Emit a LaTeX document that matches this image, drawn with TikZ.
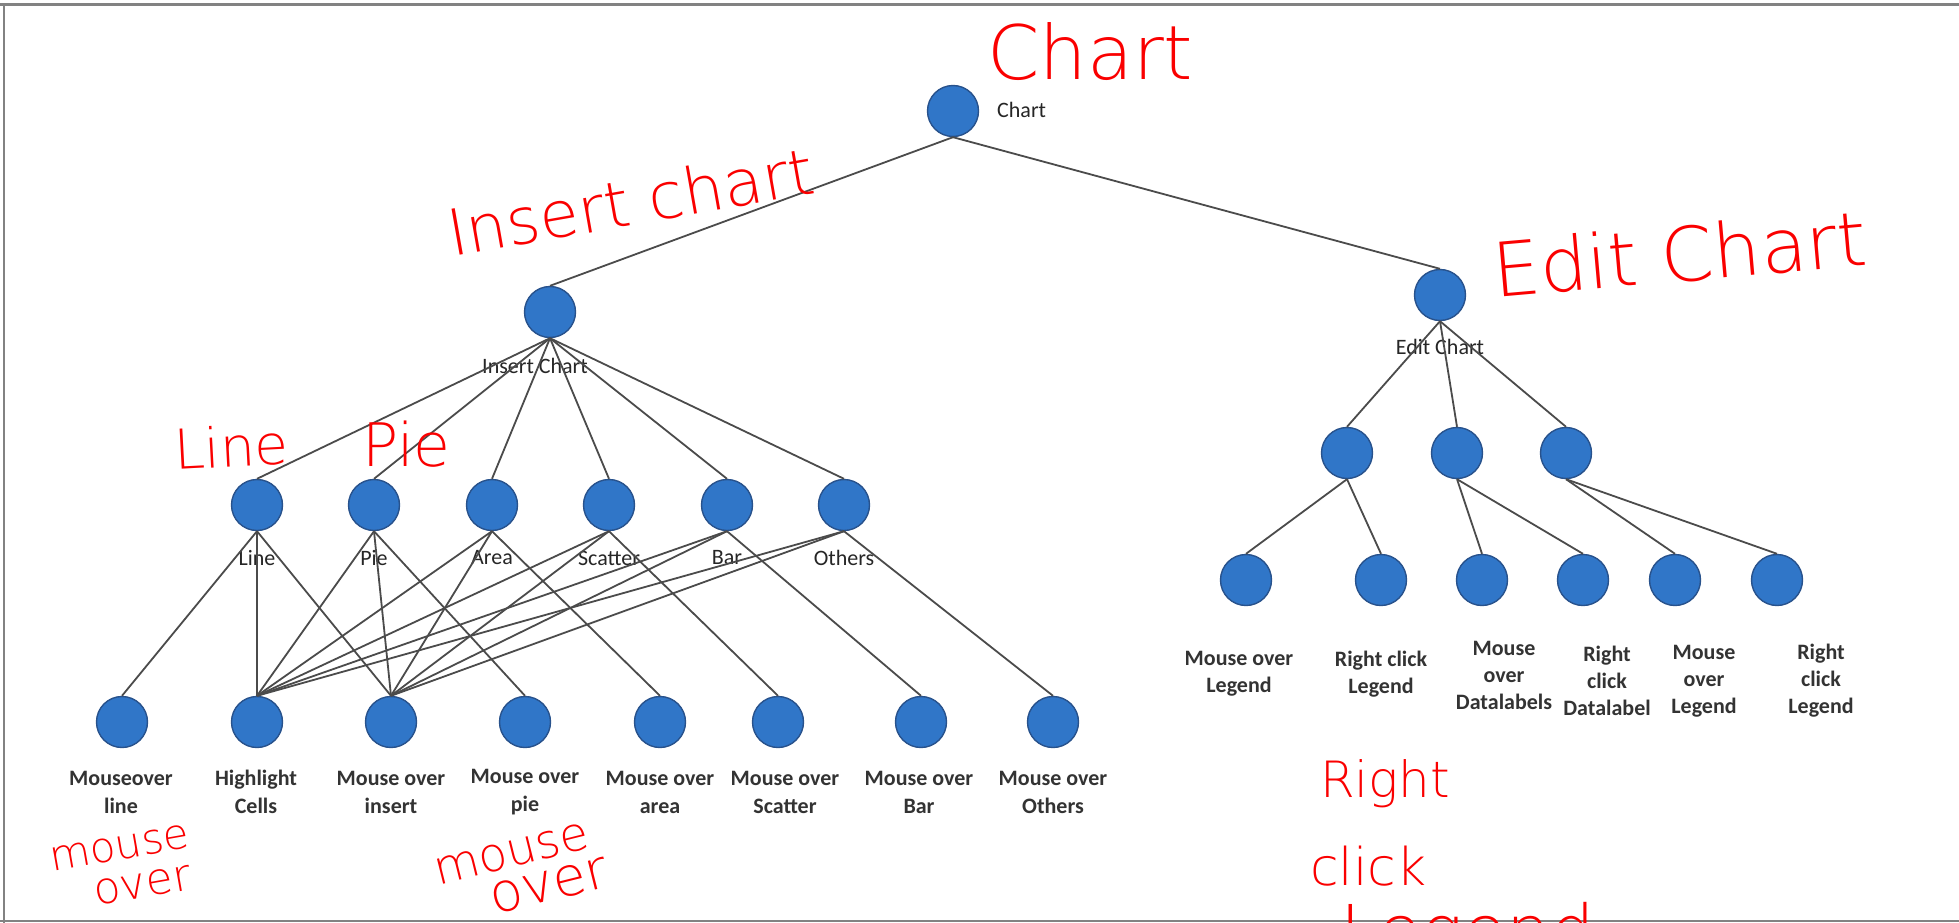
\documentclass[tikz,border=0pt]{standalone}
\usepackage{fontspec}
\setmainfont{Carlito}
\newfontfamily\handfont{DejaVuSans-ExtraLight.ttf}
\definecolor{nodeblue}{RGB}{48,118,200}
\definecolor{nodeedge}{RGB}{40,82,140}
\definecolor{linkgray}{RGB}{75,75,75}
\definecolor{framegray}{RGB}{130,130,130}
\definecolor{ink}{RGB}{250,0,0}
\begin{document}
\begin{tikzpicture}[x=1pt,y=-1pt,
  dot/.style={circle,fill=nodeblue,draw=nodeedge,line width=1.4pt,minimum size=51pt,inner sep=0pt},
  lab/.style={font=\fontsize{22}{28}\selectfont,text=black!85,align=center,inner sep=0pt},
  leaf/.style={font=\fontsize{22}{28}\selectfont\bfseries,text=black!80,align=center,inner sep=0pt},
  rleaf/.style={leaf,font=\fontsize{22}{27}\selectfont\bfseries},
  link/.style={draw=linkgray,line width=1.8pt},
  note/.style={text=ink,inner sep=0pt,anchor=base west}
]
\useasboundingbox (0,0) rectangle (1959,923);
\fill[white] (0,0) rectangle (1959,923);

% page frame
\draw[framegray,line width=3pt] (0,5) -- (1959,5);
\draw[framegray,line width=2.5pt] (4,5) -- (4,923);
\draw[framegray,line width=2.5pt] (0,921) -- (1959,921);

% labels (drawn first so the links pass over them)
\node[lab,anchor=west] (tChart) at (997,110) {Chart};
\node[lab] (tIns) at (535,366) {Insert Chart};
\node[lab] (tEdt) at (1440,347) {Edit Chart};
\node[lab] (tLn) at (257,558) {Line};
\node[lab] (tPie) at (374,558) {Pie};
\node[lab] (tArea) at (492,558) {Area};
\node[lab] (tSct) at (609,558) {Scatter};
\node[lab] (tBar) at (727,558) {Bar};
\node[lab] (tOth) at (844,558) {Others};

\node[leaf] (tMln) at (121,792) {Mouseover\\line};
\node[leaf] (tHl) at (256,792) {Highlight\\Cells};
\node[leaf] (tMins) at (391,792) {Mouse over\\insert};
\node[leaf] (tMpie) at (525,792) {Mouse over\\pie};
\node[leaf] (tMarea) at (660,792) {Mouse over\\area};
\node[leaf] (tMsct) at (785,792) {Mouse over\\Scatter};
\node[leaf] (tMbar) at (919,792) {Mouse over\\Bar};
\node[leaf] (tMoth) at (1053,792) {Mouse over\\Others};

\node[rleaf] (tR1) at (1239,674) {Mouse over\\Legend};
\node[rleaf] (tR2) at (1381,674) {Right click\\Legend};
\node[rleaf] (tR3) at (1504,675) {Mouse\\over\\Datalabels};
\node[rleaf] (tR4) at (1607,681) {Right\\click\\Datalabel};
\node[rleaf] (tR5) at (1704,681) {Mouse\\over\\Legend};
\node[rleaf] (tR6) at (1821,681) {Right\\click\\Legend};

% tree nodes
\node[dot] (root) at (953,111) {};
\node[dot] (ins) at (550,312) {};
\node[dot] (edt) at (1440,295) {};

\node[dot] (ln) at (257,505) {};
\node[dot] (pie) at (374,505) {};
\node[dot] (area) at (492,505) {};
\node[dot] (sct) at (609,505) {};
\node[dot] (bar) at (727,505) {};
\node[dot] (oth) at (844,505) {};

\node[dot] (mln) at (122,722) {};
\node[dot] (hl) at (257,722) {};
\node[dot] (mins) at (391,722) {};
\node[dot] (mpie) at (525,722) {};
\node[dot] (marea) at (660,722) {};
\node[dot] (msct) at (778,722) {};
\node[dot] (mbar) at (921,722) {};
\node[dot] (moth) at (1053,722) {};

\node[dot] (e1) at (1347,453) {};
\node[dot] (e2) at (1457,453) {};
\node[dot] (e3) at (1566,453) {};

\node[dot] (r1) at (1246,580) {};
\node[dot] (r2) at (1381,580) {};
\node[dot] (r3) at (1482,580) {};
\node[dot] (r4) at (1583,580) {};
\node[dot] (r5) at (1675,580) {};
\node[dot] (r6) at (1777,580) {};

% links
\draw[link] (root.south) -- (ins.north);
\draw[link] (root.south) -- (edt.north);
\foreach \c in {ln,pie,area,sct,bar,oth}
  \draw[link] (ins.south) -- (\c.north);
\foreach \c in {e1,e2,e3}
  \draw[link] (edt.south) -- (\c.north);
\foreach \p/\own in {ln/mln,pie/mpie,area/marea,sct/msct,bar/mbar,oth/moth}{
  \draw[link] (\p.south) -- (\own.north);
  \draw[link] (\p.south) -- (hl.north);
  \draw[link] (\p.south) -- (mins.north);
}
\draw[link] (e1.south) -- (r1.north);
\draw[link] (e1.south) -- (r2.north);
\draw[link] (e2.south) -- (r3.north);
\draw[link] (e2.south) -- (r4.north);
\draw[link] (e3.south) -- (r5.north);
\draw[link] (e3.south) -- (r6.north);

% handwritten notes
\node[note,font=\handfont\fontsize{75}{75}\selectfont] (hChart) at (987,80) {Chart};
\node[note,font=\handfont\fontsize{64}{64}\selectfont,rotate=10] (hIns) at (452,257) {Insert chart};
\node[note,font=\handfont\fontsize{75}{75}\selectfont,rotate=5] (hEdt) at (1495,298) {Edit Chart};
\node[note,font=\handfont\fontsize{55}{55}\selectfont,rotate=3] (hLn) at (175,470) {Line};
\node[note,font=\handfont\fontsize{60}{60}\selectfont] (hPie) at (362,466) {Pie};
\node[note,font=\handfont\fontsize{42}{42}\selectfont,rotate=10] (hMo1) at (52,872) {mouse};
\node[note,font=\handfont\fontsize{44}{44}\selectfont,rotate=10] (hMo2) at (96,906) {over};
\node[note,font=\handfont\fontsize{47}{47}\selectfont,rotate=14] (hMo3) at (438,886) {mouse};
\node[note,font=\handfont\fontsize{54}{54}\selectfont,rotate=14] (hMo4) at (494,915) {over};
\node[note,font=\handfont\fontsize{50}{50}\selectfont] (hRt) at (1320,797) {Right};
\node[note,font=\handfont\fontsize{52}{52}\selectfont] (hCl) at (1310,885) {click};
\node[note,font=\handfont\fontsize{70}{70}\selectfont] (hLg) at (1340,955) {Legend};
\end{tikzpicture}
\end{document}
